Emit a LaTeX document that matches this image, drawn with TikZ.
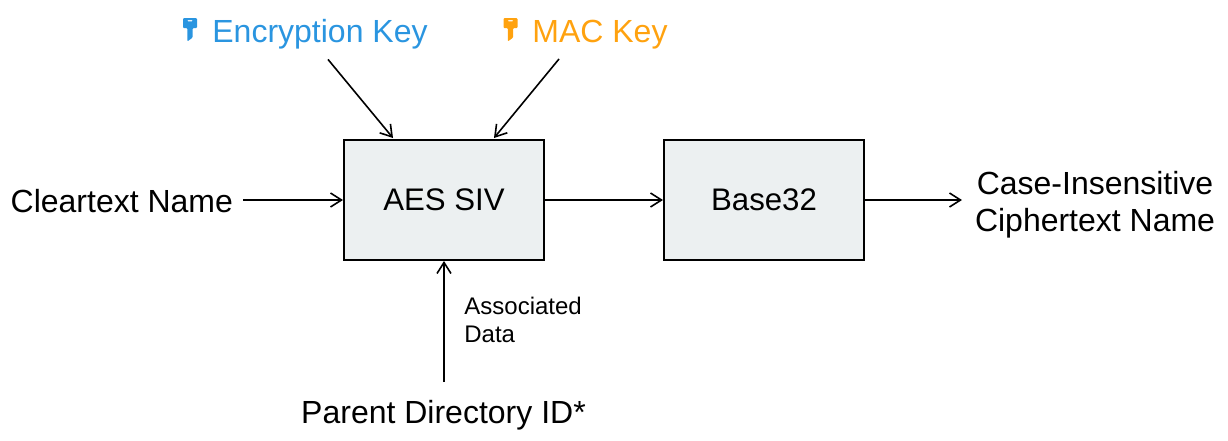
\documentclass[tikz,border=0pt]{standalone}
\usepackage{fontspec}
\setmainfont{Liberation Sans}
\usetikzlibrary{calc,arrows.meta}
\definecolor{enckeyblue}{HTML}{2A95E0}
\definecolor{mackeyorange}{HTML}{FFA20F}
\definecolor{boxgray}{HTML}{ECF0F1}

\begin{document}
\begin{tikzpicture}[x=.5pt,y=-.5pt,
    block/.style={draw,line width=1pt,fill=boxgray,minimum width=100pt,minimum height=60pt,font=\fontsize{15.6}{18}\selectfont},
    label/.style={font=\fontsize{16}{18.5}\selectfont,inner sep=0pt,outer sep=5pt},
    conn/.style={-{Straight Barb[length=5.5pt,width=7pt]},line width=.8pt},
    keyicon/.pic={
      \fill[pic actions,even odd rule,rounded corners=.5pt] (-7,0) -- (7,0) -- (7,10) -- (2.7,10) -- (2.7,19.5) -- (-2.7,23.5) -- (-2.7,10) -- (-7,10) -- cycle
        (-3,2) rectangle (3,3.4);
    }]
  \useasboundingbox (0,0) rectangle (1228,440);

  \node[block] (aes) at (444,200) {AES SIV};
  \node[block] (base) at (764,200) {Base32};

  \node[label,text=enckeyblue] (enckey) at (320,34.5) {Encryption Key};
  \node[label,text=mackeyorange] (mackey) at (600,34.5) {MAC Key};
  \node[label,anchor=east] (cleartext) at (243,201) {Cleartext Name};
  \node[label,align=center,anchor=west,outer sep=6.5pt] (ciphertext) at (962,204.5) {Case-Insensitive\\Ciphertext Name};
  \node[label] (parentid) at (443.5,415) {Parent Directory ID*};
  \node[anchor=west,inner sep=0pt,align=left,font=\fontsize{12}{14}\selectfont] (assocdata) at (464,320) {Associated\\Data};

  \pic[enckeyblue] at (190,18) {keyicon};
  \pic[mackeyorange] at (510.5,18) {keyicon};

  \draw[conn] ($(enckey.south)+(8,0)$) -- ($(aes.north)+(-51,-1)$);
  \draw[conn] ($(mackey.south)+(-41,0)$) -- ($(aes.north)+(50,-1)$);
  \draw[conn] (cleartext.east |- aes.west) -- (aes.west);
  \draw[conn] (aes) -- (base);
  \draw[conn] (base.east) -- (ciphertext.west |- base.east);
  \draw[conn] (parentid.north -| aes.south) ++(0,-8) -- (aes.south);
\end{tikzpicture}
\end{document}
